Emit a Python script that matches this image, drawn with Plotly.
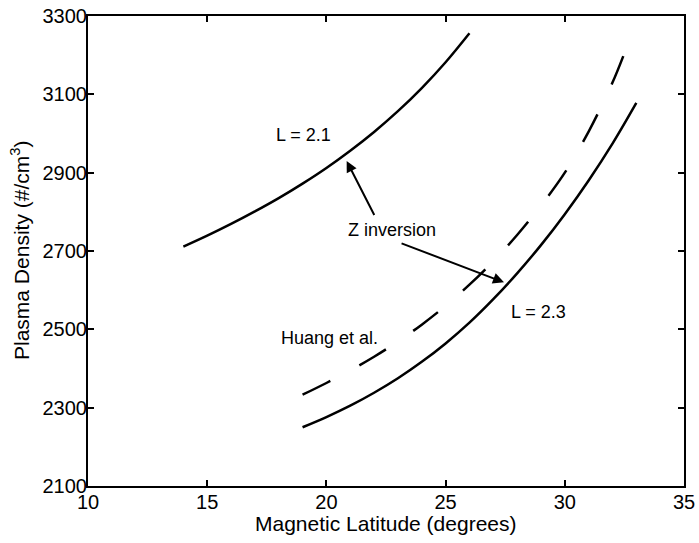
import plotly.graph_objects as go

# L = 2.1 (Z inversion)
lat_21 = [14, 15, 16, 17, 18, 19, 20, 21, 22, 23, 24, 25, 26]
dens_21 = [2711, 2739, 2769, 2801, 2835, 2872, 2912, 2956, 3004, 3057, 3116, 3182, 3256]

# L = 2.3 (Z inversion)
lat_23 = [19, 20, 21, 22, 23, 24, 25, 26, 27, 28, 29, 30, 31, 32, 33]
dens_23 = [2250, 2276, 2305, 2338, 2375, 2417, 2464, 2517, 2577, 2643, 2715, 2794, 2880, 2974, 3078]

# Huang et al.
lat_h = [19, 20, 21, 22, 23, 24, 25, 26, 27, 28, 29, 30, 31, 32, 32.5]
dens_h = [2333, 2363, 2395, 2430, 2469, 2512, 2560, 2614, 2674, 2741, 2816, 2900, 3005, 3130, 3205]

x_ticks = [10, 15, 20, 25, 30, 35]
y_ticks = [2100, 2300, 2500, 2700, 2900, 3100, 3300]

FONT = "Arial, Liberation Sans, Helvetica, sans-serif"

fig = go.Figure()
fig.add_trace(go.Scatter(x=lat_21, y=dens_21, mode="lines", line=dict(color="black", width=2.5, shape="spline"), showlegend=False))
fig.add_trace(go.Scatter(x=lat_23, y=dens_23, mode="lines", line=dict(color="black", width=2.5, shape="spline"), showlegend=False))
fig.add_trace(go.Scatter(x=lat_h, y=dens_h, mode="lines", line=dict(color="black", width=2.5, shape="spline", dash="31px,33px"), showlegend=False))

texts = [
    ("L = 2.1", 19.06, 2996),
    ("Z inversion", 22.75, 2754),
    ("L = 2.3", 28.88, 2544),
    ("Huang et al.", 20.11, 2478),
]
for t, x, y in texts:
    fig.add_annotation(x=x, y=y, text=t, showarrow=False, font=dict(family=FONT, size=18, color="black"))

arrows = [
    (20.85, 2930, 22.04, 2788),
    (27.45, 2620, 23.09, 2721),
]
for x, y, ax, ay in arrows:
    fig.add_annotation(x=x, y=y, ax=ax, ay=ay, xref="x", yref="y", axref="x", ayref="y",
                       text="", showarrow=True, arrowhead=2, arrowsize=1.1, arrowwidth=2,
                       arrowcolor="black", standoff=0, startstandoff=0)

# axis titles as annotations for exact placement
fig.add_annotation(x=0.5, y=0, xref="paper", yref="paper", yanchor="middle", yshift=-37,
                   text="Magnetic Latitude (degrees)", showarrow=False,
                   font=dict(family=FONT, size=21, color="black"))
fig.add_annotation(x=0, y=0.5, xref="paper", yref="paper", xanchor="center", xshift=-68,
                   textangle=-90, text="Plasma Density (#/cm<sup>3</sup>)", showarrow=False,
                   font=dict(family=FONT, size=21, color="black"))

fig.update_layout(
    width=699, height=543,
    margin=dict(l=88, r=15, t=16, b=57),
    paper_bgcolor="white", plot_bgcolor="white",
    font=dict(family=FONT, color="black"),
)
fig.update_xaxes(range=[10, 35], tickvals=x_ticks, ticktext=[str(v) for v in x_ticks],
                 ticks="inside", ticklen=6, tickwidth=1.5, tickcolor="black",
                 showline=True, linecolor="black", linewidth=2, mirror="ticks",
                 showgrid=False, zeroline=False, tickfont=dict(size=20), automargin=False,
                 ticklabelstandoff=-3, ticklabeloverflow="allow")
fig.update_yaxes(range=[2100, 3300], tickvals=y_ticks, ticktext=[str(v) for v in y_ticks],
                 ticks="inside", ticklen=6, tickwidth=1.5, tickcolor="black",
                 showline=True, linecolor="black", linewidth=2, mirror="ticks",
                 showgrid=False, zeroline=False, tickfont=dict(size=20), automargin=False,
                 ticklabelstandoff=-5, ticklabeloverflow="allow")

fig.write_html("out.html", config={"displayModeBar": False},
               post_script="document.body.style.margin='0';")
